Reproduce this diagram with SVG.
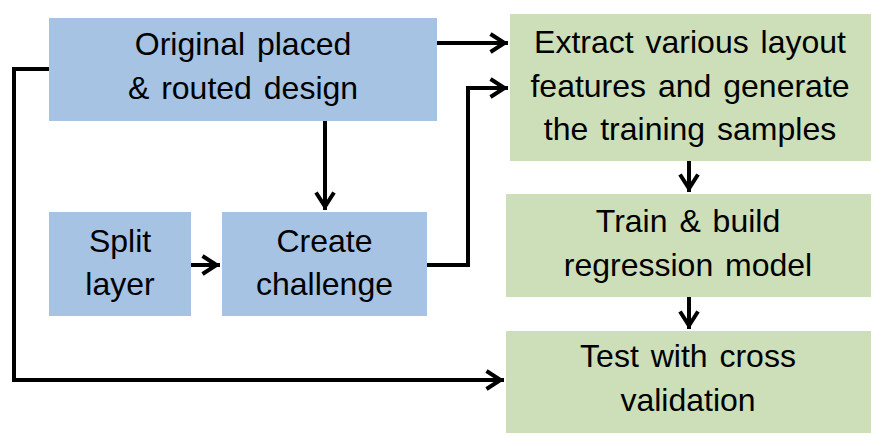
<svg xmlns="http://www.w3.org/2000/svg" width="886" height="446" viewBox="0 0 886 446">
<style>
.blue{fill:#A6C3E3}
.green{fill:#CCDFB8}
.t{font-family:"Liberation Sans",Arial,sans-serif;font-size:32px;fill:#000;text-anchor:middle;word-spacing:3px}
.c{fill:none;stroke:#000;stroke-width:4;stroke-linejoin:miter}
</style>
<defs>
<marker id="ah" markerUnits="userSpaceOnUse" viewBox="-20 -12 22 24" refX="0" refY="0" markerWidth="22" markerHeight="24" orient="auto" overflow="visible">
<path d="M-17.5,-9 L-3.5,0 L-17.5,9" fill="none" stroke="#000" stroke-width="4" stroke-linejoin="miter"/>
</marker>
</defs>
<g id="connectors">
<path class="c" d="M437,43 H508" marker-end="url(#ah)"/>
<path class="c" d="M49,69 H14 V380 H504" marker-end="url(#ah)"/>
<path class="c" d="M325,121 V210" marker-end="url(#ah)"/>
<path class="c" d="M191,265 H220" marker-end="url(#ah)"/>
<path class="c" d="M427,265 H468 V88 H508" marker-end="url(#ah)"/>
<path class="c" d="M689,161 V192" marker-end="url(#ah)"/>
<path class="c" d="M689,297 V329" marker-end="url(#ah)"/>
</g>
<g id="original">
<rect class="blue" x="49" y="18" width="388" height="103"/>
<text class="t" x="243" y="55">Original placed</text>
<text class="t" x="243" y="99">&amp; routed design</text>
</g>
<g id="split">
<rect class="blue" x="49" y="212" width="142" height="104"/>
<text class="t" x="120" y="252">Split</text>
<text class="t" x="120" y="295">layer</text>
</g>
<g id="create">
<rect class="blue" x="222" y="212" width="205" height="104"/>
<text class="t" x="324.5" y="252">Create</text>
<text class="t" x="324.5" y="295">challenge</text>
</g>
<g id="extract">
<rect class="green" x="510" y="14" width="361" height="147"/>
<text class="t" x="690" y="53">Extract various layout</text>
<text class="t" x="690" y="97">features and generate</text>
<text class="t" x="690" y="140">the training samples</text>
</g>
<g id="train">
<rect class="green" x="506" y="194" width="365" height="103"/>
<text class="t" x="688" y="232">Train &amp; build</text>
<text class="t" x="688" y="276">regression model</text>
</g>
<g id="test">
<rect class="green" x="506" y="331" width="365" height="102"/>
<text class="t" x="688" y="367">Test with cross</text>
<text class="t" x="688" y="411">validation</text>
</g>
</svg>
